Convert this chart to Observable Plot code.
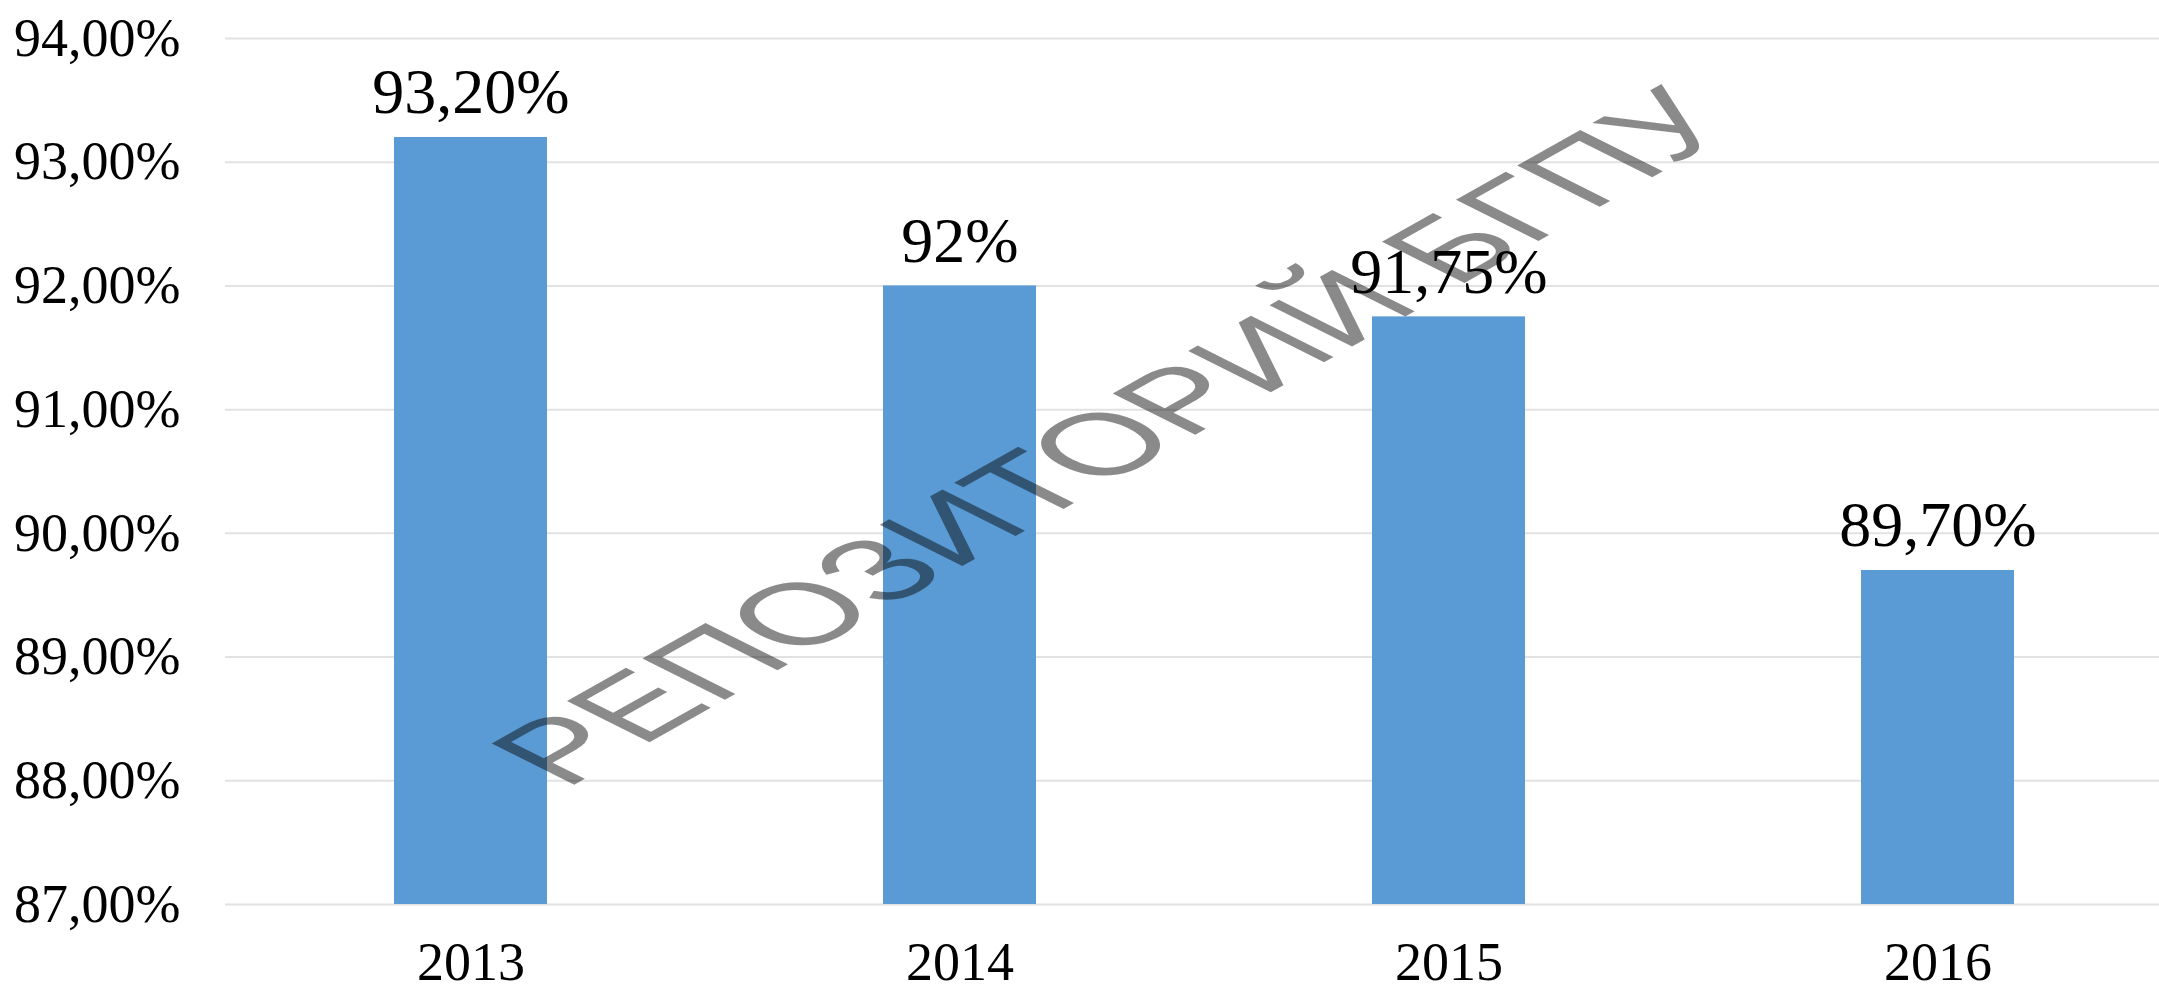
<!DOCTYPE html>
<html>
<head>
<meta charset="utf-8">
<script src="https://cdn.jsdelivr.net/npm/d3@7"></script>
<script src="https://cdn.jsdelivr.net/npm/@observablehq/plot@0.6"></script>
<style>
  html, body { margin: 0; padding: 0; background: #ffffff; }
  #chart svg { display: block; }
</style>
</head>
<body>
<div id="chart"></div>
<script>
const years = ["2013", "2014", "2015", "2016"];
const values = [93.2, 92, 91.75, 89.7];
const valueLabels = ["93,20%", "92%", "91,75%", "89,70%"];
const yTicks = [87, 88, 89, 90, 91, 92, 93, 94];
const yTickLabels = ["87,00%", "88,00%", "89,00%", "90,00%", "91,00%", "92,00%", "93,00%", "94,00%"];
const watermarkText = "РЕПОЗИТОРИЙ БГПУ";

const data = years.map((year, i) => ({year, value: values[i], label: valueLabels[i]}));

const chart = Plot.plot({
  width: 2159,
  height: 990,
  marginLeft: 225,
  marginRight: 0,
  marginTop: 38,
  marginBottom: 86,
  style: {
    fontFamily: "'Liberation Serif', 'Times New Roman', serif",
    fontSize: "54px",
    background: "#ffffff",
    color: "#000000"
  },
  x: {
    domain: years,
    range: [225, 2183],
    paddingInner: 0.687,
    paddingOuter: 0.3435,
    align: 0.5,
    tickSize: 0,
    tickPadding: 37,
    label: null
  },
  y: {
    domain: [87, 94],
    ticks: yTicks,
    tickFormat: d => yTickLabels[yTicks.indexOf(d)],
    tickSize: 0,
    tickPadding: 45,
    label: null
  },
  marks: [
    Plot.ruleY(yTicks, {stroke: "#e2e2e2", strokeWidth: 2}),
    Plot.barY(data, {x: "year", y1: 87, y2: "value", fill: "#5B9BD5"}),
    Plot.text(data, {
      x: "year",
      y: "value",
      text: "label",
      lineAnchor: "bottom",
      dy: -24,
      fontSize: 64,
      fill: "#000000"
    })
  ]
});

document.getElementById("chart").appendChild(chart);

// watermark overlay (sheared, rotated text)
d3.select(chart).append("text")
  .attr("transform", "matrix(1.13,-0.637,1.20,0.60,565,790)")
  .attr("text-anchor", "start")
  .attr("font-family", "'Liberation Sans', Arial, sans-serif")
  .attr("font-size", 100)
  .attr("fill", "#000000")
  .attr("fill-opacity", 0.46)
  .text(watermarkText);
</script>
</body>
</html>
